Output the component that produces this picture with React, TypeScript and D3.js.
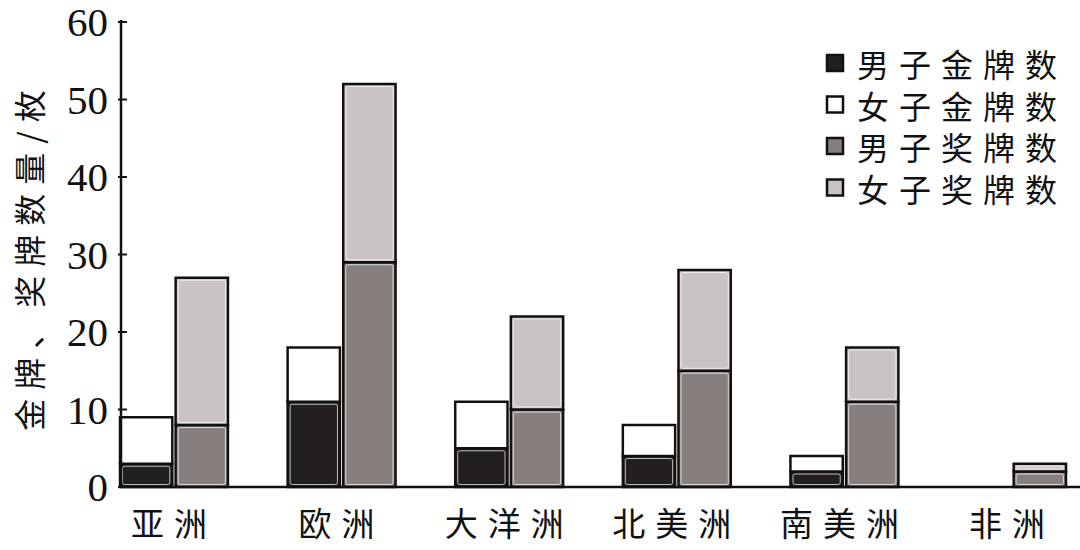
import React from "react";
import * as d3 from "d3";

const categories = ["亚洲", "欧洲", "大洋洲", "北美洲", "南美洲", "非洲"];
const menGold = [3, 11, 5, 4, 2, 0];
const womenGold = [6, 7, 6, 4, 2, 0];
const menMedals = [8, 29, 10, 15, 11, 2];
const womenMedals = [19, 23, 12, 13, 7, 1];
const yTicks = [0, 10, 20, 30, 40, 50, 60];
const legendLabels = ["男子金牌数", "女子金牌数", "男子奖牌数", "女子奖牌数"];
const colors = ["#231f1f", "#ffffff", "#877f7e", "#c9c3c3"];
const yLabel = "金牌、奖牌数量/枚";

const W = 1080;
const H = 550;
const CJK = '"Noto Sans CJK SC", "Noto Sans", sans-serif';
const SERIF = '"Liberation Serif", "DejaVu Serif", serif';

export default function App() {
  const y = d3.scaleLinear().domain([0, 60]).range([487, 22]);
  const x0 = d3.scaleBand().domain(categories).range([120, 1066]).paddingInner(0.356).paddingOuter(0);
  const x1 = d3.scaleBand().domain(["gold", "medal"]).range([0, x0.bandwidth()]).paddingInner(0.06);

  const segs: { x: number; w: number; y0: number; y1: number; c: string; key: string }[] = [];
  categories.forEach((cat, i) => {
    const gx = x0(cat)!;
    const stacks = [
      { k: "gold", vals: [menGold[i], womenGold[i]], cols: [colors[0], colors[1]] },
      { k: "medal", vals: [menMedals[i], womenMedals[i]], cols: [colors[2], colors[3]] },
    ];
    stacks.forEach((s) => {
      let base = 0;
      s.vals.forEach((v, j) => {
        if (v > 0) {
          segs.push({
            x: gx + x1(s.k)!,
            w: x1.bandwidth(),
            y0: y(base),
            y1: y(base + v),
            c: s.cols[j],
            key: `${cat}-${s.k}-${j}`,
          });
        }
        base += v;
      });
    });
  });

  return (
    <svg width={W} height={H} style={{ position: "absolute", left: 0, top: 0, background: "#fff" }}>
      <rect x={0} y={0} width={W} height={H} fill="#fff" />
      {segs.map((s) => (
        <g key={s.key}>
          <rect x={s.x} y={s.y1} width={s.w} height={s.y0 - s.y1} fill={s.c} stroke="#111" strokeWidth={2.5} />
          {s.y0 - s.y1 > 6 && (
            <rect
              x={s.x + 2.5}
              y={s.y1 + 2.5}
              width={s.w - 5}
              height={s.y0 - s.y1 - 5}
              fill="none"
              stroke="#ffffff"
              strokeOpacity={0.7}
              strokeWidth={1}
              rx={2}
            />
          )}
        </g>
      ))}
      {/* axes */}
      <line x1={121} x2={121} y1={20} y2={488} stroke="#111" strokeWidth={2.5} />
      <line x1={120} x2={W} y1={487} y2={487} stroke="#111" strokeWidth={2.5} />
      {yTicks.map((t) => (
        <g key={t}>
          <line x1={118} x2={127} y1={y(t)} y2={y(t)} stroke="#111" strokeWidth={2} />
          <text
            x={108}
            y={y(t)}
            textAnchor="end"
            dominantBaseline="central"
            fontFamily={SERIF}
            fontSize={41}
            fill="#111"
          >
            {t}
          </text>
        </g>
      ))}
      {categories.map((c) => (
        <text
          key={c}
          x={x0(c)! + x0.bandwidth() / 2}
          y={522}
          textAnchor="middle"
          dominantBaseline="central"
          fontFamily={CJK}
          fontSize={33}
          letterSpacing={10}
          fill="#111"
        >
          {c}
        </text>
      ))}
      <text
        transform="translate(28,256) rotate(-90)"
        textAnchor="middle"
        dominantBaseline="central"
        fontFamily={CJK}
        fontSize={32}
        letterSpacing={9}
        fill="#111"
      >
        {yLabel}
      </text>
      {legendLabels.map((l, i) => (
        <g key={l} transform={`translate(827, ${63 + i * 41.5})`}>
          <rect x={0} y={-8} width={16} height={16} fill={colors[i]} stroke="#111" strokeWidth={2.5} />
          <text
            x={30}
            y={0}
            dominantBaseline="central"
            fontFamily={CJK}
            fontSize={32}
            letterSpacing={10}
            fill="#111"
          >
            {l}
          </text>
        </g>
      ))}
    </svg>
  );
}
